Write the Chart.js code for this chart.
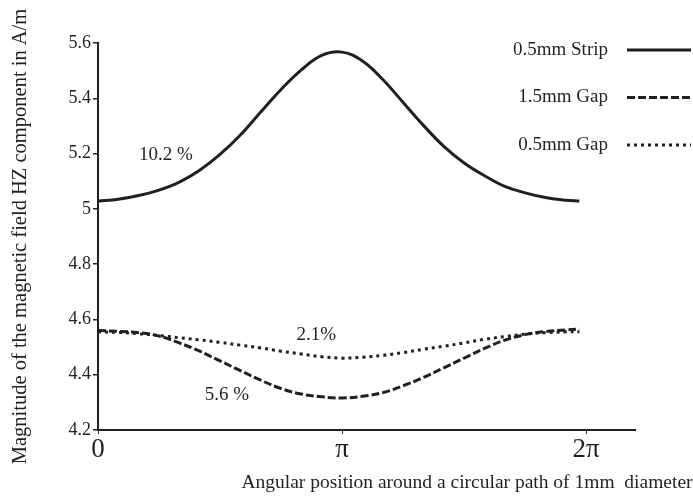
<!DOCTYPE html>
<html>
<head>
<meta charset="utf-8">
<script src="https://cdn.jsdelivr.net/npm/chart.js@4"></script>
<style>
  html, body { margin: 0; padding: 0; background: #fff; }
  #wrap { width: 693px; height: 498px; }
</style>
</head>
<body>
<div id="wrap"><canvas id="chart" width="693" height="498"></canvas></div>
<script>
// angle along the path, in degrees (axis labelled in radians)
const angles = [0, 15, 30, 45, 60, 75, 90, 105, 120, 135, 150, 165, 180,
    195, 210, 225, 240, 255, 270, 285, 300, 315, 330, 345, 355];

const strip05 = [5.028, 5.035, 5.048, 5.068, 5.097, 5.14, 5.197, 5.267, 5.35, 5.432, 5.503, 5.555, 5.567,
    5.535, 5.468, 5.385, 5.302, 5.226, 5.166, 5.12, 5.081, 5.058, 5.041, 5.031, 5.028];

const gap15 = [4.56, 4.557, 4.552, 4.54, 4.515, 4.485, 4.45, 4.415, 4.38, 4.35, 4.33, 4.32, 4.316,
    4.322, 4.335, 4.36, 4.39, 4.425, 4.46, 4.495, 4.525, 4.545, 4.556, 4.562, 4.565];

const gap05 = [4.555, 4.553, 4.548, 4.542, 4.534, 4.526, 4.517, 4.507, 4.497, 4.485, 4.475, 4.465, 4.46,
    4.463, 4.47, 4.48, 4.492, 4.503, 4.515, 4.528, 4.538, 4.547, 4.552, 4.555, 4.555];

const seriesNames = ['0.5mm Strip', '1.5mm Gap', '0.5mm Gap'];
const xTickValues = [0, 180, 360];
const xTickLabels = ['0', 'π', '2π'];
const xTitle = 'Angular position around a circular path of 1mm  diameter';
const notes = [
    { text: '10.2 %', x: 50, y: 5.195 },
    { text: '5.6 %', x: 95, y: 4.326 },
    { text: '2.1%', x: 161, y: 4.544 }
];

const ink = '#231f20';
const serif = '"Liberation Serif", "Times New Roman", serif';
const dashes = [[], [8, 3], [3, 4]];

function points(values) {
    return angles.map((a, i) => ({ x: a, y: values[i] }));
}

// percentages written next to the curves
const notesPlugin = {
    id: 'notes',
    afterDatasetsDraw(chart) {
        const ctx = chart.ctx;
        const xs = chart.scales.x, ys = chart.scales.y;
        ctx.save();
        ctx.fillStyle = ink;
        ctx.font = '19px ' + serif;
        ctx.textAlign = 'center';
        ctx.textBaseline = 'middle';
        notes.forEach(n => ctx.fillText(n.text, xs.getPixelForValue(n.x), ys.getPixelForValue(n.y)));
        ctx.restore();
    }
};

// legend in the top right corner, text then line sample;
// x axis title sits further right than the plot area allows, so it's drawn here too
const legendPlugin = {
    id: 'sideLegend',
    afterDraw(chart) {
        const ctx = chart.ctx;
        ctx.save();
        ctx.font = '19px ' + serif;
        ctx.textAlign = 'right';
        ctx.textBaseline = 'middle';
        chart.data.datasets.forEach((ds, i) => {
            const y = 50 + i * 47.5;
            ctx.fillStyle = ink;
            ctx.fillText(ds.label, 608, y);
            ctx.strokeStyle = ink;
            ctx.lineWidth = 3;
            ctx.setLineDash(ds.borderDash);
            ctx.beginPath();
            ctx.moveTo(627, y);
            ctx.lineTo(691, y);
            ctx.stroke();
        });
        ctx.font = '19.5px ' + serif;
        ctx.textAlign = 'center';
        ctx.fillStyle = ink;
        ctx.fillText(xTitle, 467, 483);
        ctx.restore();
    }
};

new Chart(document.getElementById('chart'), {
    type: 'line',
    data: {
        datasets: [strip05, gap15, gap05].map((vals, i) => ({
            label: seriesNames[i],
            data: points(vals),
            borderColor: ink,
            borderWidth: 3,
            borderDash: dashes[i],
            pointRadius: 0,
            tension: 0.4,
            fill: false
        }))
    },
    options: {
        responsive: false,
        animation: false,
        layout: { padding: { top: 43, right: 58, left: 0, bottom: 0 } },
        plugins: {
            legend: { display: false },
            tooltip: { enabled: false }
        },
        scales: {
            x: {
                type: 'linear',
                min: 0,
                max: 396,
                afterBuildTicks(scale) {
                    scale.ticks = xTickValues.map(v => ({ value: v }));
                },
                afterFit(scale) { scale.height = 68; },
                ticks: {
                    color: ink,
                    font: { family: serif, size: 27 },
                    padding: 0,
                    maxRotation: 0,
                    callback: (v) => xTickLabels[xTickValues.indexOf(v)]
                },
                grid: { display: true, drawOnChartArea: false, tickLength: 4, color: ink, lineWidth: 1 },
                border: { display: true, color: ink, width: 2 }
            },
            y: {
                min: 4.2,
                max: 5.6,
                afterFit(scale) { scale.width = 98; },
                ticks: {
                    stepSize: 0.2,
                    color: ink,
                    font: { family: serif, size: 18 },
                    padding: 2,
                    callback: (v) => String(Number(v.toFixed(1)))
                },
                grid: { display: true, drawOnChartArea: false, tickLength: 5, color: ink, lineWidth: 1.5 },
                border: { display: true, color: ink, width: 2 },
                title: {
                    display: true,
                    text: 'Magnitude of the magnetic field HZ component in A/m',
                    color: ink,
                    font: { family: serif, size: 20.5 },
                    padding: { top: 8, bottom: 0 }
                }
            }
        }
    },
    plugins: [notesPlugin, legendPlugin]
});
</script>
</body>
</html>
